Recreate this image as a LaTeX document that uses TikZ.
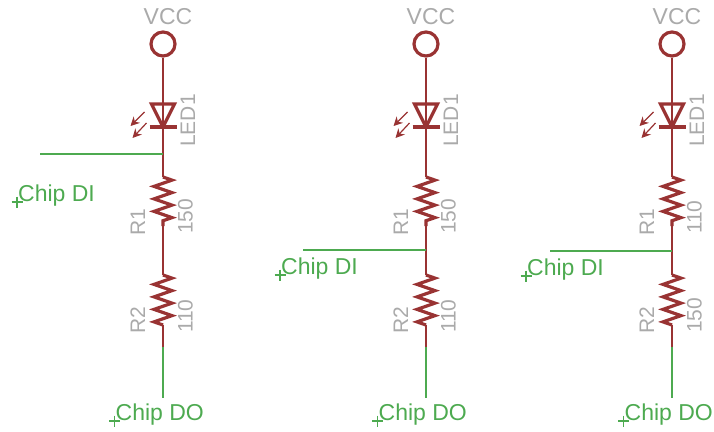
\documentclass[tikz,border=0pt]{standalone}
\usepackage{fontspec}
\setmainfont{Liberation Sans}
\usetikzlibrary{decorations.pathmorphing}
\usetikzlibrary{arrows.meta}
\definecolor{partred}{HTML}{993333}
\definecolor{netgreen}{HTML}{4DAA50}
\definecolor{labelgray}{HTML}{AAAAAA}
\tikzset{
    wirered/.style={draw=partred, line width=1.5pt},
    wiregreen/.style={draw=netgreen, line width=1.5pt},
    partred/.style={draw=partred, line width=3.2pt},
    resistor/.style={partred, decorate, decoration={zigzag, segment length=12.5pt, amplitude=9pt}},
    lightray/.style={draw=partred, line width=1.2pt, -{Stealth[length=9pt,width=9pt]}},
    grayname/.style={text=labelgray, inner sep=0pt, anchor=base west, font=\fontsize{21}{21}\selectfont, rotate=90},
    netname/.style={text=netgreen, inner sep=0pt, anchor=base west, font=\fontsize{23}{23}\selectfont},
}
\begin{document}
\begin{tikzpicture}[x=1pt, y=-1pt]
    \useasboundingbox (0,0) rectangle (714,431);
    \foreach \col/\xx/\tapy/\tapx/\dix/\diy/\valone/\valtwo in {
        a/163/154/40/18/201/150/110,
        b/426/250/303/281/274/150/110,
        c/672/251/550/527/275/110/150} {
        \begin{scope}[shift={(\xx,0)}]
            \node[text=labelgray, inner sep=0pt, font=\fontsize{23}{23}\selectfont] (\col-vcclabel) at (5,17) {VCC};
            \node[circle, partred, minimum size=24pt, inner sep=0pt] (\col-vcc) at (0,44) {};
            \coordinate (\col-led) at (0,127);
            \coordinate (\col-rone) at (0,177);
            \coordinate (\col-ronee) at (0,226);
            \coordinate (\col-rtwo) at (0,275);
            \coordinate (\col-rtwoe) at (0,325);
            \coordinate (\col-redend) at (0,347);
            \coordinate (\col-do) at (0,398);
            \draw[wirered] (\col-vcc) -- (\col-led) -- (\col-rone);
            \draw[wirered] (\col-ronee) -- (\col-rtwo);
            \draw[wirered] (\col-rtwoe) -- (\col-redend);
            \draw[wiregreen] (\col-redend) -- (\col-do);
            \draw[partred] (\col-led) ++(-11.5,-23) -- ++(23,0) -- (\col-led) -- cycle;
            \draw[partred] (\col-led) ++(-13.5,0) -- ++(27,0);
            \draw[lightray] (\col-led) ++(-18.5,-15) -- ++(-14,14);
            \draw[lightray] (\col-led) ++(-16.5,-4) -- ++(-14,15);
            \draw[resistor] (\col-rone) -- (\col-ronee);
            \draw[resistor] (\col-rtwo) -- (\col-rtwoe);
            \node[grayname] (\col-ledlabel) at (32,147) {LED1};
            \node[grayname] (\col-ronelabel) at (-18,236) {R1};
            \node[grayname] (\col-vonelabel) at (29.5,234) {\valone};
            \node[grayname] (\col-rtwolabel) at (-18,334) {R2};
            \node[grayname] (\col-vtwolabel) at (29.5,333) {\valtwo};
        \end{scope}
        \coordinate (\col-tap) at (\xx,\tapy);
        \coordinate (\col-tapend) at (\tapx,\tapy);
        \draw[wiregreen] (\col-tap) -- (\col-tapend);
        \node[netname] (\col-di) at (\dix,\diy) {Chip DI};
        \node[netname] (\col-dolabel) at (\xx-47.5,420) {Chip DO};
        \draw[wiregreen, line width=1.2pt] (\col-di.base west) ++(-6.5,1) -- ++(11,0) ++(-5.5,-5.5) -- ++(0,11);
        \draw[wiregreen, line width=1.2pt] (\col-dolabel.base west) ++(-6.5,1) -- ++(11,0) ++(-5.5,-5.5) -- ++(0,11);
    }
\end{tikzpicture}
\end{document}
